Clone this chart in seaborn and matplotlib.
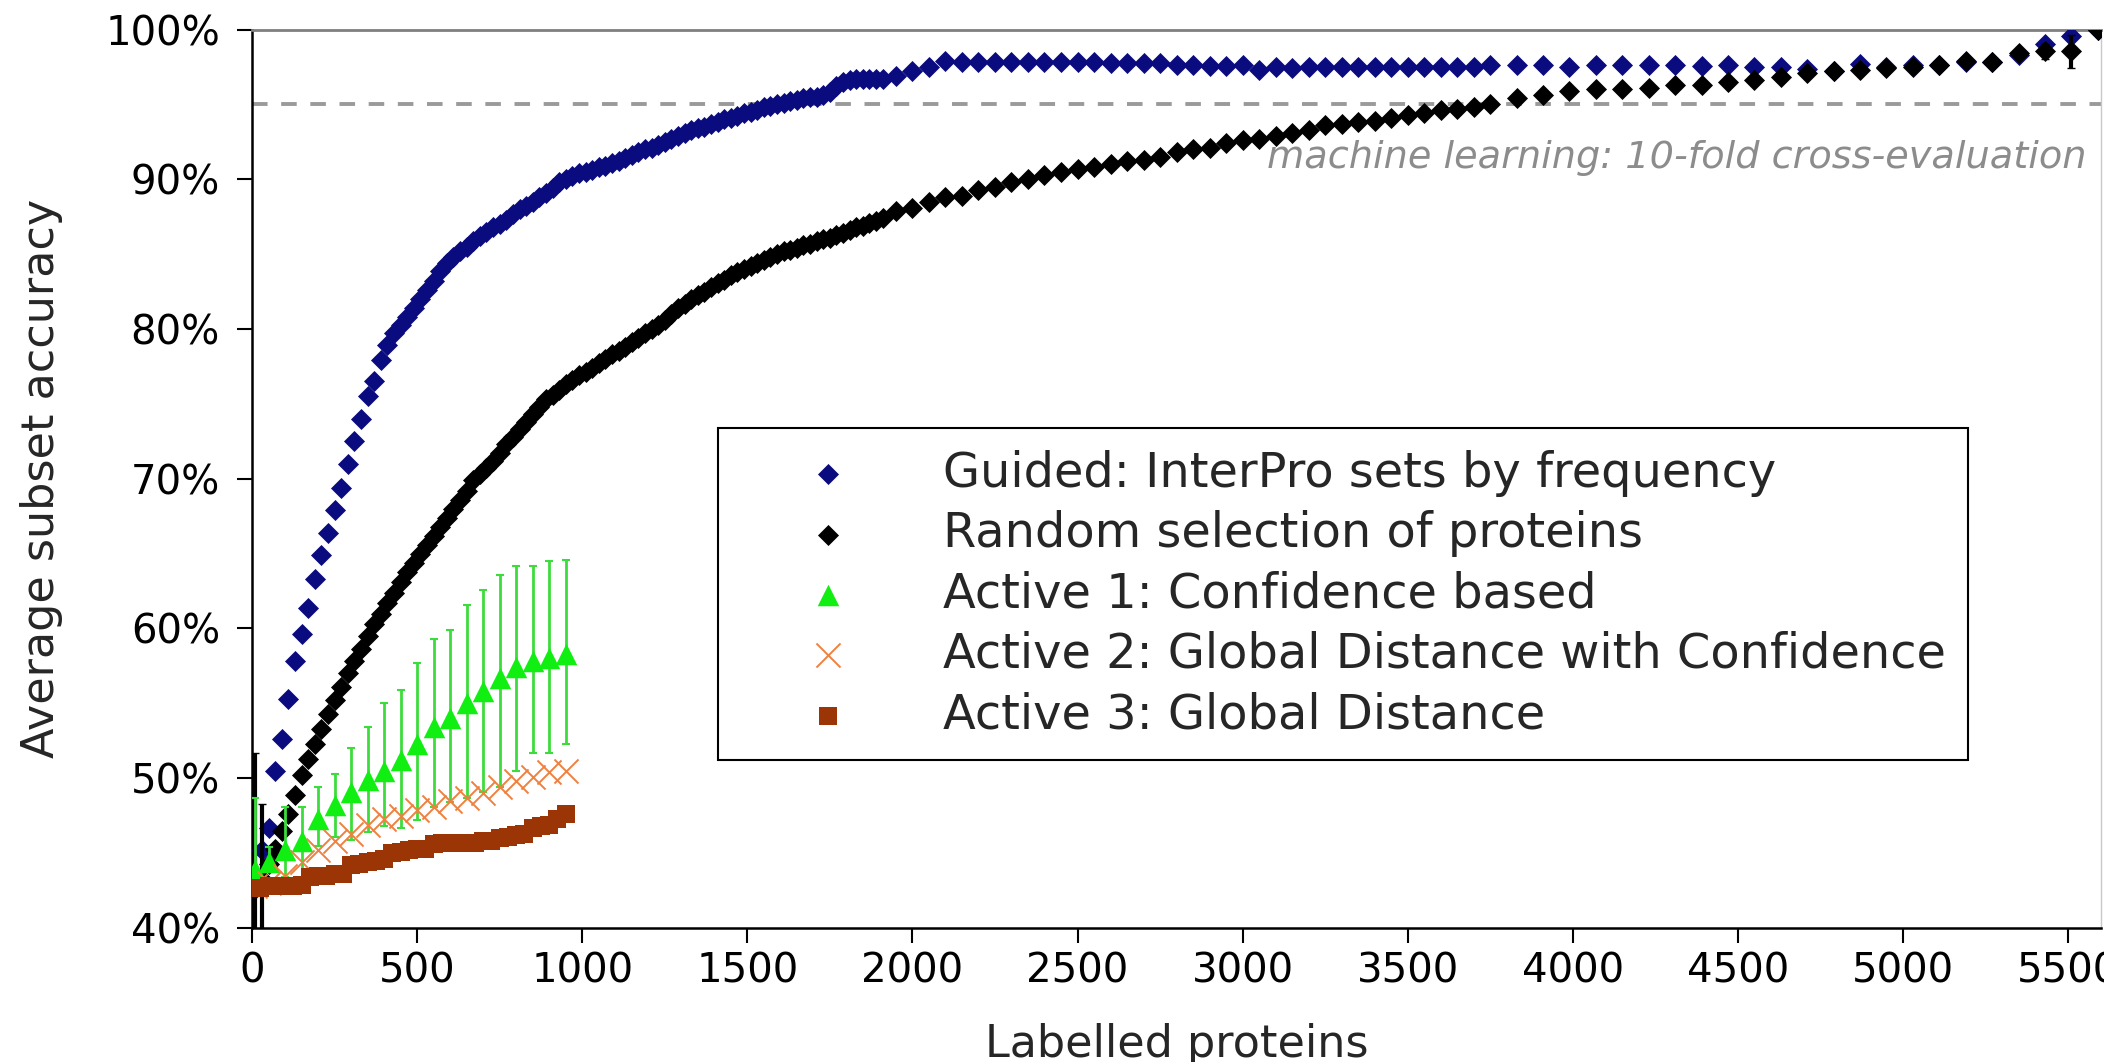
import pandas as pd
import seaborn as sns
import matplotlib.pyplot as plt
from matplotlib.ticker import FuncFormatter

sns.set_style("ticks")
plt.rcParams['font.family'] = ['DejaVu Sans']

# sampling positions (labelled proteins)
x_dense = list(range(10, 1911, 20))     # every 20 proteins up to ~1900
x_mid = list(range(1950, 3751, 50))     # every 50 proteins
x_tail = list(range(3830, 5511, 80)) + [5590]
x_active = [10] + list(range(50, 951, 50))
x_active3 = list(range(0, 951, 25))

# Guided: InterPro sets by frequency
guided_dense = [42.6, 45.2, 46.7, 50.5, 52.6, 55.3, 57.8, 59.6, 61.4, 63.3,
                64.9, 66.4, 67.9, 69.4, 71.0, 72.5, 74.0, 75.5, 76.5, 77.9,
                78.9, 79.7, 80.3, 80.8, 81.4, 82.0, 82.6, 83.2, 83.9, 84.4,
                84.8, 85.2, 85.5, 85.9, 86.2, 86.5, 86.8, 87.0, 87.3, 87.7,
                88.0, 88.2, 88.5, 88.8, 89.1, 89.4, 89.8, 90.0, 90.2, 90.4,
                90.5, 90.6, 90.8, 90.9, 91.1, 91.2, 91.4, 91.6, 91.8, 92.0,
                92.1, 92.3, 92.5, 92.7, 92.9, 93.1, 93.3, 93.4, 93.5, 93.7,
                93.8, 94.0, 94.1, 94.2, 94.4, 94.5, 94.6, 94.8, 94.9, 95.0,
                95.1, 95.2, 95.3, 95.4, 95.5, 95.5, 95.6, 95.8, 96.2, 96.5,
                96.6, 96.7, 96.7, 96.7, 96.7, 96.7]
guided_mid = [96.9, 97.2, 97.5, 97.9, 97.8, 97.8, 97.8, 97.8, 97.8, 97.8,
              97.8, 97.8, 97.8, 97.75, 97.75, 97.75, 97.75, 97.65, 97.65, 97.55,
              97.55, 97.6, 97.3, 97.5, 97.4, 97.5, 97.5, 97.5, 97.5, 97.5,
              97.5, 97.5, 97.5, 97.5, 97.5, 97.5, 97.6]
guided_tail = [97.6, 97.6, 97.5, 97.6, 97.6, 97.6, 97.6, 97.55, 97.65, 97.5,
               97.5, 97.35, 97.25, 97.7, 97.5, 97.65, 97.6, 97.85, 97.8, 98.3,
               99.0, 99.6, 100.0]

# Random selection of proteins
random_dense = [42.7, 43.3, 44.3, 45.3, 46.5, 47.6, 48.9, 50.2, 51.3, 52.3,
                53.3, 54.3, 55.2, 56.1, 57.0, 57.8, 58.6, 59.5, 60.3, 61.0,
                61.7, 62.4, 63.1, 63.8, 64.4, 65.0, 65.6, 66.2, 66.8, 67.4,
                68.0, 68.6, 69.2, 69.9, 70.3, 70.7, 71.2, 71.7, 72.3, 72.8,
                73.3, 73.8, 74.3, 74.8, 75.3, 75.6, 75.9, 76.3, 76.6, 76.9,
                77.1, 77.4, 77.7, 78.0, 78.3, 78.5, 78.8, 79.1, 79.4, 79.7,
                80.0, 80.3, 80.6, 81.0, 81.4, 81.7, 82.0, 82.3, 82.5, 82.8,
                83.1, 83.3, 83.6, 83.8, 84.0, 84.2, 84.4, 84.6, 84.8, 85.0,
                85.2, 85.3, 85.4, 85.6, 85.7, 85.9, 86.0, 86.1, 86.3, 86.4,
                86.6, 86.8, 86.9, 87.1, 87.2, 87.4]
random_mid = [87.9, 88.1, 88.5, 88.8, 88.9, 89.3, 89.5, 89.8, 90.0, 90.3,
              90.5, 90.7, 90.8, 91.0, 91.2, 91.3, 91.5, 91.8, 92.0, 92.1,
              92.4, 92.6, 92.7, 92.9, 93.1, 93.3, 93.6, 93.7, 93.8, 93.9,
              94.1, 94.3, 94.4, 94.6, 94.7, 94.8, 95.0]
random_tail = [95.4, 95.6, 95.9, 96.0, 96.0, 96.1, 96.3, 96.3, 96.5, 96.6,
               96.8, 97.1, 97.2, 97.3, 97.4, 97.5, 97.6, 97.9, 97.8, 98.4,
               98.55, 98.55, 100.0]
random_err_x = [10, 30, 5350, 5430, 5510]
random_err_y = [42.7, 43.3, 98.4, 98.55, 98.55]
random_err = [9.0, 5.0, 0.3, 0.5, 1.1]

# Active 1: Confidence based (with error bars)
active1 = [43.9, 44.4, 45.2, 45.8, 47.3, 48.2, 49.1, 49.9, 50.5, 51.2,
           52.3, 53.4, 54.0, 55.0, 55.8, 56.7, 57.4, 57.8, 58.0, 58.3]
active1_lo = [0.7, 0.5, 1.8, 2.5, 1.8, 2.1, 3.2, 3.5, 3.7, 4.5,
              5.1, 5.3, 5.6, 6.3, 6.7, 7.3, 6.9, 6.1, 6.3, 6.0]
active1_hi = [4.8, 1.0, 2.9, 2.3, 2.1, 2.1, 2.9, 3.5, 4.5, 4.7,
              5.4, 5.9, 5.9, 6.6, 6.8, 6.9, 6.8, 6.4, 6.5, 6.3]

# Active 2: Global Distance with Confidence
active2 = [42.8, 43.0, 43.5, 44.4, 45.2, 45.8, 46.3, 46.9, 47.3, 47.5,
           47.9, 48.1, 48.5, 48.7, 49.0, 49.4, 49.8, 50.1, 50.4, 50.5]

# Active 3: Global Distance
active3 = [42.7, 42.7, 42.8, 42.8, 42.8, 42.8, 42.9, 43.4, 43.5, 43.5,
           43.6, 43.6, 44.2, 44.3, 44.4, 44.5, 44.6, 45.0, 45.1, 45.2,
           45.3, 45.3, 45.6, 45.7, 45.7, 45.7, 45.7, 45.7, 45.8, 45.8,
           46.0, 46.1, 46.2, 46.3, 46.7, 46.8, 46.9, 47.3, 47.6]

labels = ["Guided: InterPro sets by frequency",
          "Random selection of proteins",
          "Active 1: Confidence based",
          "Active 2: Global Distance with Confidence",
          "Active 3: Global Distance"]

guided = pd.DataFrame({"x": x_dense + x_mid + x_tail,
                       "y": guided_dense + guided_mid + guided_tail})
rand = pd.DataFrame({"x": x_dense + x_mid + x_tail,
                     "y": random_dense + random_mid + random_tail})

fig, ax = plt.subplots(figsize=(21.04, 10.62), dpi=100)
fig.subplots_adjust(left=0.1198, right=0.9986, bottom=0.1262, top=0.9722)

# cross-validation reference
ax.axhline(95, color='#9a9a9a', lw=2.8, ls=(0, (4, 3.5)), zorder=1)
ax.text(5556, 91.4, "machine learning: 10-fold cross-evaluation",
        ha='right', va='center', style='italic', color='#8c8c8c', fontsize=27.5)

sns.scatterplot(data=guided, x="x", y="y", marker='D', s=115, color='#0b0b80',
                linewidth=0, label=labels[0], ax=ax, zorder=3)
ax.errorbar(random_err_x, random_err_y, yerr=random_err, fmt='none',
            ecolor='black', elinewidth=3, capsize=3, zorder=4)
sns.scatterplot(data=rand, x="x", y="y", marker='D', s=115, color='black',
                linewidth=0, label=labels[1], ax=ax, zorder=4)

ax.errorbar(x_active, active1, yerr=[active1_lo, active1_hi], fmt='none',
            ecolor='#3ddc3d', elinewidth=2, capsize=3, capthick=1.5, zorder=5)
sns.scatterplot(x=x_active, y=active1, marker='^', s=240, color='#11ee11',
                linewidth=0, label=labels[2], ax=ax, zorder=6)
sns.scatterplot(x=x_active, y=active2, marker='x', s=300, color='#ee8040',
                linewidth=1.4, label=labels[3], ax=ax, zorder=7)
sns.scatterplot(x=x_active3, y=active3, marker='s', s=170, color='#9c3506',
                linewidth=0, label=labels[4], ax=ax, zorder=8)

ax.set_xlim(0, 5600)
ax.set_ylim(40, 100)
ax.set_xticks(range(0, 5501, 500))
ax.set_yticks(range(40, 101, 10))
ax.yaxis.set_major_formatter(FuncFormatter(lambda v, p: "%d%%" % v))

ax.tick_params(direction='out', length=11, width=1.5, labelsize=29, colors='black')
ax.tick_params(axis='y', pad=12)
ax.tick_params(axis='x', pad=6)

for side in ['left', 'bottom']:
    ax.spines[side].set_color('black')
    ax.spines[side].set_linewidth(1.8)
ax.spines['top'].set_color('#7f7f7f')
ax.spines['top'].set_linewidth(2)
ax.spines['right'].set_color('#c8c8c8')
ax.spines['right'].set_linewidth(1)

ax.set_xlabel("Labelled proteins", fontsize=32)
ax.set_ylabel("Average subset accuracy", fontsize=32)
ax.xaxis.set_label_coords(0.5, -0.106)
ax.yaxis.set_label_coords(-0.102, 0.5)

handles, labs = ax.get_legend_handles_labels()
leg = ax.legend(handles, labs, loc='lower left', bbox_to_anchor=(0.252, 0.187),
                fontsize=34.5, frameon=True, fancybox=False, framealpha=1,
                edgecolor='black', borderpad=0.45, labelspacing=0.28,
                handlelength=3.7, handletextpad=0.55, borderaxespad=0)
leg.get_frame().set_linewidth(1.5)

plt.savefig("out.png", dpi=100)
